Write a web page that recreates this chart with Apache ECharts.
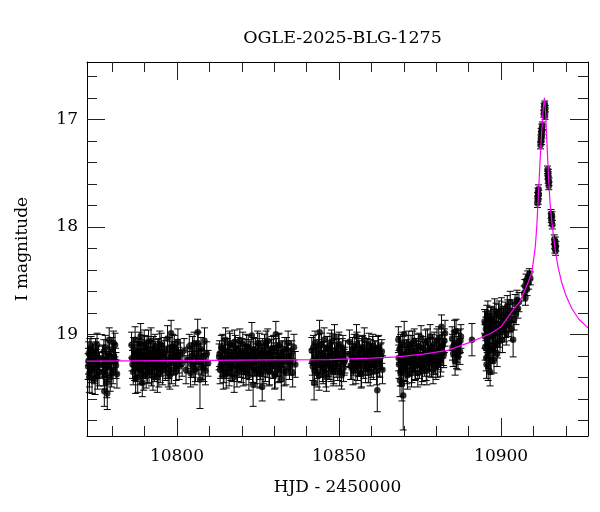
<!DOCTYPE html>
<html><head><meta charset="utf-8">
<script src="https://cdn.jsdelivr.net/npm/echarts/dist/echarts.min.js"></script>
<style>html,body{margin:0;padding:0;background:#fff}#c{width:600px;height:512px}</style>
</head><body><div id="c"></div>
<script>
const titleText = 'OGLE-2025-BLG-1275';
const xName = 'HJD - 2450000';
const yName = 'I magnitude';
const xRange = [10772.25, 10926.8];
const yRange = [16.467, 19.946];
const xMajor = [10800, 10850, 10900];
const xMinor = [10780, 10790, 10810, 10820, 10830, 10840, 10860, 10870, 10880, 10890, 10910, 10920];
const yMajor = [17, 18, 19];
const yMinor = [16.6, 16.8, 17.2, 17.4, 17.6, 17.8, 18.2, 18.4, 18.6, 18.8, 19.2, 19.4, 19.6, 19.8];

// OGLE photometry, first pass: HJD-2450000, I mag, error
const hjd = [
  10772.6,10772.8,10773.0,10773.3,10773.5,10773.8,10774.1,10774.3,10774.6,10774.9,10775.2,10775.5,10775.8,10776.1,
  10777.0,10777.3,10777.6,10777.9,10778.2,10778.5,10778.8,10779.1,10779.4,10779.7,10780.0,10780.3,10780.6,10780.9,10781.2,10781.5,
  10786.0,10786.3,10786.5,10786.8,10787.1,10787.4,10787.6,10787.9,10788.2,10788.5,
  10788.8,10789.0,10789.3,10789.6,10789.9,10790.2,10790.5,10790.8,10791.1,10791.4,
  10791.7,10792.0,10792.3,10792.6,10792.9,10793.2,10793.5,10793.8,10794.1,10794.4,
  10794.7,10795.0,10795.3,10795.6,10796.0,10796.4,10796.8,10797.1,10797.5,10797.8,
  10798.2,10798.5,10798.9,10799.2,10799.6,10799.9,10800.3,10800.7,10801.1,10801.6,
  10802.2,10802.8,10803.3,10803.8,10804.2,10804.6,10805.0,10805.3,10805.7,10806.0,
  10806.4,10806.7,10807.1,10807.4,10807.8,10808.1,10808.5,10808.8,10809.2,10809.6,
  10813.0,10813.3,10813.7,10814.0,10814.3,10814.7,10815.0,10815.4,10815.7,10816.1,
  10816.4,10816.8,10817.1,10817.5,10817.8,10818.2,10818.5,10818.9,10819.2,10819.6,
  10819.9,10820.3,10820.6,10821.0,10821.3,10821.7,10822.0,10822.4,10822.7,10823.1,
  10823.5,10823.8,10824.2,10824.5,10824.9,10825.2,10825.6,10825.9,10826.3,10826.6,
  10827.0,10827.3,10827.7,10828.0,10828.4,10828.7,10829.1,10829.4,10829.8,10830.1,
  10830.5,10830.8,10831.2,10831.5,10831.9,10832.2,10832.6,10832.9,10833.3,10833.6,
  10834.0,10834.3,10834.7,10835.0,10835.4,10835.7,10836.1,10836.5,
  10841.6,10841.9,10842.3,10842.6,10843.0,10843.3,10843.7,10844.0,10844.4,10844.7,
  10845.1,10845.4,10845.8,10846.1,10846.5,10846.8,10847.2,10847.5,10847.9,10848.2,
  10848.6,10848.9,10849.3,10849.6,10850.0,10850.4,10850.8,10851.2,10851.6,10852.0,
  10853.2,10853.6,10854.0,10854.3,10854.7,10855.0,10855.4,10855.7,10856.1,10856.4,
  10856.8,10857.1,10857.5,10857.8,10858.2,10858.5,10858.9,10859.2,10859.6,10859.9,
  10860.3,10860.6,10861.0,10861.4,10861.8,10862.2,10862.6,10863.0,10863.4,
  10868.3,10868.5,10868.8,10869.0,10869.3,10869.5,10869.8,10870.1,10870.4,10870.8,
  10871.1,10871.5,10871.8,10872.2,10872.5,10872.9,10873.2,10873.6,10873.9,10874.3,
  10874.6,10875.0,10875.3,10875.7,10876.0,10876.4,10876.7,10877.1,10877.4,10877.8,
  10878.1,10878.5,10878.8,10879.2,10879.5,10879.9,10880.2,10880.6,10880.9,10881.3,
  10881.6,10882.0,10882.3,10882.7,10884.9,10885.2,10885.5,10885.8,10886.1,10886.4,
  10886.7,10887.0,10887.3,10887.6,
  10891.0,
  10894.9,10895.1,10895.3,10895.5,10895.7,10895.9,10896.1,10896.3,10896.6,10896.8,
  10897.0,10897.3,10897.5,10897.8,10898.0,10898.3,10898.6,10898.9,10899.2,10899.5,
  10899.8,10900.1,10900.4,10900.7,10901.0,10901.3,10901.6,10901.9,10902.2,10902.5,
  10902.8,10903.1,10903.4,10903.7,10904.0,10904.3,10904.6,10904.9,10905.2,10905.5,
  10907.1,10907.3,10907.5,10907.7,10908.0,10908.2,10908.5,10908.7,10909.0,
  10911.20,10911.28,10911.36,10911.44,10911.52,10911.60,
  10912.15,10912.25,10912.35,10912.45,10912.55,10912.65,10912.75,
  10913.15,10913.25,10913.35,10913.45,10913.55,10913.65,
  10914.30,10914.40,10914.50,10914.60,10914.70,10914.80,
  10915.40,10915.50,10915.60,10915.70,10915.80,
  10916.40,10916.50,10916.60,10916.70,10916.80,10916.90
];
const imag = [
  19.30,19.18,19.36,19.24,19.12,19.41,19.27,19.20,19.33,19.15,19.26,19.38,19.22,19.29,
  19.22,19.35,19.53,19.12,19.30,19.55,19.18,19.05,19.40,19.26,19.14,19.33,19.21,19.10,19.29,19.37,
  19.10,19.28,19.35,19.18,19.05,19.31,19.22,19.40,19.15,19.26,
  19.02,19.33,19.45,19.19,19.08,19.29,19.37,19.13,19.24,19.32,
  19.17,19.06,19.28,19.39,19.21,19.11,19.30,19.25,19.16,19.36,
  19.09,19.27,19.20,19.34,19.14,19.31,19.23,19.04,19.29,19.38,
  18.99,19.18,19.26,19.12,19.35,19.22,19.07,19.30,19.19,19.27,
  19.15,19.33,19.24,19.11,19.36,19.20,19.28,19.09,19.32,19.17,
  18.98,19.25,19.42,19.14,19.30,19.21,19.06,19.34,19.18,19.27,
  19.21,19.33,19.12,19.27,19.38,19.16,19.05,19.29,19.22,19.35,
  19.10,19.26,19.31,19.18,19.07,19.24,19.36,19.14,19.28,19.20,
  19.32,19.09,19.25,19.17,19.34,19.23,19.12,19.30,19.19,19.01,
  19.47,19.26,19.15,19.33,19.08,19.22,19.37,19.18,19.49,19.27,
  19.11,19.31,19.20,19.06,19.35,19.24,19.16,19.29,19.13,19.38,
  19.00,19.23,19.32,19.10,19.27,19.42,19.18,19.26,19.14,19.34,
  19.21,19.08,19.30,19.25,19.17,19.36,19.12,19.28,
  19.15,19.30,19.45,19.08,19.24,19.36,19.12,18.98,19.28,19.19,
  19.33,19.05,19.22,19.40,19.14,19.27,19.10,19.31,19.20,19.35,
  19.02,19.25,19.17,19.30,19.09,19.23,19.38,19.13,19.26,19.18,
  19.07,19.29,19.21,19.34,19.11,19.24,19.02,19.30,19.16,19.27,
  19.37,19.13,19.22,19.05,19.32,19.19,19.26,19.10,19.35,19.21,
  19.14,19.29,19.18,19.24,19.52,19.12,19.28,19.20,19.33,
  19.05,19.28,19.43,19.12,19.35,19.20,19.57,19.00,19.31,19.17,
  19.38,19.09,19.26,19.14,19.33,19.22,19.06,19.29,19.18,19.36,
  19.11,19.25,19.03,19.31,19.19,19.27,19.08,19.34,19.15,19.22,
  19.02,19.28,19.12,19.24,19.17,19.30,19.06,19.21,19.13,19.26,
  18.93,19.10,19.19,18.99,19.04,19.18,19.09,19.25,18.97,19.14,
  19.21,19.07,19.16,19.02,
  19.05,
  18.88,19.12,18.95,19.28,19.05,18.80,19.20,18.92,19.35,19.02,
  18.85,19.15,18.97,19.24,18.78,19.08,18.90,19.10,18.83,19.00,
  18.93,18.76,19.05,18.87,18.96,18.80,18.99,18.74,18.91,18.82,
  18.70,18.95,18.78,19.05,18.86,18.72,18.81,18.68,18.76,18.70,
  18.62,18.55,18.66,18.50,18.58,18.47,18.52,18.44,18.48,
  17.78,17.72,17.68,17.75,17.65,17.70,
  17.24,17.18,17.12,17.20,17.08,17.14,17.06,
  16.95,16.88,16.92,16.86,16.97,16.90,
  17.47,17.52,17.56,17.50,17.62,17.58,
  17.88,17.92,17.95,17.90,17.98,
  18.12,18.16,18.20,18.14,18.22,18.18
];
const ierr = [
  0.12,0.11,0.13,0.12,0.10,0.14,0.12,0.11,0.13,0.11,0.12,0.13,0.11,0.12,
  0.12,0.13,0.14,0.11,0.12,0.15,0.12,0.11,0.13,0.12,0.11,0.13,0.12,0.11,0.12,0.13,
  0.12,0.13,0.12,0.11,0.12,0.13,0.12,0.14,0.11,0.12,
  0.12,0.13,0.13,0.11,0.12,0.12,0.13,0.11,0.12,0.13,
  0.11,0.12,0.12,0.13,0.12,0.11,0.12,0.12,0.11,0.13,
  0.12,0.12,0.11,0.13,0.11,0.12,0.12,0.12,0.12,0.13,
  0.12,0.11,0.12,0.11,0.13,0.12,0.12,0.12,0.11,0.12,
  0.11,0.13,0.12,0.11,0.13,0.12,0.12,0.11,0.12,0.11,
  0.12,0.12,0.27,0.11,0.12,0.12,0.12,0.13,0.11,0.12,
  0.12,0.13,0.11,0.12,0.13,0.12,0.11,0.12,0.12,0.13,
  0.11,0.12,0.13,0.12,0.11,0.12,0.13,0.11,0.12,0.12,
  0.13,0.11,0.12,0.12,0.13,0.12,0.11,0.12,0.12,0.12,
  0.20,0.12,0.11,0.13,0.11,0.12,0.13,0.12,0.13,0.12,
  0.11,0.13,0.12,0.11,0.13,0.12,0.11,0.12,0.12,0.13,
  0.12,0.12,0.13,0.11,0.12,0.19,0.12,0.12,0.11,0.13,
  0.12,0.11,0.12,0.12,0.11,0.13,0.12,0.12,
  0.12,0.13,0.16,0.11,0.12,0.13,0.12,0.11,0.12,0.12,
  0.13,0.11,0.12,0.13,0.12,0.12,0.11,0.13,0.12,0.13,
  0.11,0.12,0.12,0.13,0.11,0.12,0.13,0.12,0.12,0.12,
  0.11,0.13,0.12,0.13,0.11,0.12,0.11,0.13,0.12,0.12,
  0.13,0.11,0.12,0.11,0.13,0.12,0.12,0.11,0.13,0.12,
  0.12,0.13,0.12,0.12,0.20,0.11,0.12,0.12,0.13,
  0.12,0.13,0.15,0.12,0.13,0.12,0.32,0.12,0.13,0.12,
  0.13,0.12,0.12,0.13,0.12,0.12,0.11,0.13,0.12,0.13,
  0.12,0.12,0.11,0.13,0.12,0.12,0.12,0.13,0.11,0.12,
  0.11,0.12,0.12,0.13,0.12,0.12,0.11,0.12,0.12,0.13,
  0.11,0.12,0.12,0.12,0.11,0.12,0.12,0.13,0.11,0.12,
  0.12,0.11,0.12,0.11,
  0.15,
  0.11,0.12,0.11,0.13,0.12,0.11,0.12,0.11,0.13,0.12,
  0.11,0.12,0.11,0.12,0.11,0.12,0.11,0.12,0.11,0.12,
  0.11,0.10,0.12,0.11,0.11,0.10,0.11,0.10,0.11,0.10,
  0.10,0.11,0.10,0.16,0.10,0.09,0.10,0.09,0.09,0.09,
  0.07,0.06,0.07,0.06,0.06,0.06,0.06,0.05,0.06,
  0.04,0.04,0.04,0.04,0.04,0.04,
  0.035,0.035,0.035,0.035,0.035,0.035,0.035,
  0.03,0.03,0.03,0.03,0.03,0.03,
  0.035,0.035,0.035,0.035,0.035,0.035,
  0.04,0.04,0.04,0.04,0.04,
  0.045,0.045,0.045,0.045,0.045,0.045
];

// OGLE photometry, second pass (interleaved frames)
const hjd2 = [
  10772.7,10772.95,10773.15,10773.65,10773.95,10774.45,10774.75,10775.05,10775.35,10775.95,
  10777.15,10777.45,10777.75,10778.05,10778.35,10778.65,10779.25,10779.85,10780.45,10781.05,
  10786.15,10786.65,10786.95,10787.25,10787.75,10788.05,10788.35,10788.65,10788.9,10789.15,
  10789.45,10789.75,10790.05,10790.35,10790.65,10790.95,10791.25,10791.55,10791.85,10792.15,
  10792.45,10792.75,10793.05,10793.35,10793.65,10793.95,10794.25,10794.55,10794.85,10795.15,
  10795.45,10796.2,10796.6,10797.3,10797.65,10798.0,10798.35,10798.7,10799.05,10799.4,
  10799.75,10800.1,10800.5,10804.4,10804.8,10805.5,10806.2,10806.55,10807.6,10808.3,
  10813.15,10813.5,10813.85,10814.15,10814.5,10814.85,10815.2,10815.55,10815.9,10816.25,
  10816.6,10816.95,10817.3,10817.65,10818.0,10818.35,10818.7,10819.05,10819.4,10819.75,
  10820.1,10820.45,10820.8,10821.15,10821.5,10821.85,10822.2,10822.55,10822.9,10823.3,
  10823.65,10824.0,10824.35,10824.7,10825.05,10825.4,10825.75,10826.1,10826.45,10826.8,
  10827.15,10827.5,10827.85,10828.2,10828.55,10828.9,10829.25,10829.6,10829.95,10830.3,
  10830.65,10831.0,10831.35,10831.7,10832.05,10832.4,10833.1,10833.8,10834.5,10835.2,
  10841.75,10842.1,10842.45,10842.8,10843.15,10843.5,10843.85,10844.2,10844.55,10844.9,
  10845.25,10845.6,10845.95,10846.3,10846.65,10847.0,10847.35,10847.7,10848.05,10848.4,
  10848.75,10849.1,10849.45,10849.8,10850.2,10850.6,10851.0,10851.4,10851.8,10853.4,
  10853.8,10854.15,10854.5,10854.85,10855.2,10855.55,10855.9,10856.25,10856.6,10856.95,
  10857.3,10857.65,10858.0,10858.35,10858.7,10859.05,10859.4,10859.75,10860.1,10860.45,
  10860.8,10861.2,10861.6,10862.0,10862.4,10862.8,10863.2,
  10868.4,10868.65,10868.9,10869.15,10869.4,10869.65,10869.95,10870.25,10870.6,10870.95,
  10871.3,10871.65,10872.0,10872.35,10872.7,10873.05,10873.4,10873.75,10874.1,10874.45,
  10874.8,10875.15,10875.5,10875.85,10876.2,10876.55,10876.9,10877.25,10877.6,10877.95,
  10878.3,10878.65,10879.0,10879.35,10879.7,10880.05,10880.4,10880.75,10881.1,10881.45,
  10881.8,10882.15,10882.5,10885.0,10885.65,10886.25,10886.85,10887.45,
  10895.0,10895.2,10895.4,10895.6,10895.8,10896.0,10896.2,10896.45,10896.7,10896.9,
  10897.15,10897.4,10897.65,10897.9,10898.15,10898.45,10898.75,10899.05,10899.35,10899.65,
  10900.25,10900.85,10901.45,10902.05,10902.65
];
const imag2 = [
  19.25,19.40,19.15,19.32,19.20,19.28,19.42,19.19,19.10,19.35,
  19.28,19.16,19.38,19.24,19.45,19.31,19.20,19.36,19.08,19.25,
  19.22,19.14,19.30,19.41,19.19,19.27,19.09,19.34,19.21,19.16,
  19.29,19.38,19.12,19.25,19.20,19.33,19.07,19.28,19.18,19.35,
  19.24,19.13,19.31,19.19,19.27,19.40,19.15,19.23,19.32,19.10,
  19.26,19.18,19.29,19.36,19.14,19.22,19.33,19.11,19.25,19.19,
  19.30,19.16,19.24,19.28,19.13,19.34,19.21,19.09,19.26,19.31,
  19.18,19.29,19.24,19.13,19.33,19.21,19.37,19.15,19.26,19.09,
  19.30,19.20,19.27,19.40,19.12,19.23,19.31,19.19,19.06,19.28,
  19.16,19.35,19.22,19.29,19.11,19.26,19.38,19.17,19.24,19.32,
  19.14,19.27,19.21,19.36,19.19,19.10,19.30,19.25,19.15,19.33,
  19.22,19.08,19.28,19.18,19.34,19.24,19.13,19.29,19.20,19.37,
  19.16,19.27,19.11,19.31,19.23,19.19,19.35,19.14,19.26,19.21,
  19.26,19.12,19.34,19.21,19.29,19.17,19.38,19.24,19.10,19.31,
  19.19,19.27,19.36,19.13,19.23,19.30,19.18,19.07,19.25,19.33,
  19.15,19.28,19.20,19.11,19.35,19.22,19.16,19.31,19.24,19.19,
  19.30,19.14,19.26,19.21,19.33,19.09,19.27,19.18,19.24,19.36,
  19.12,19.29,19.20,19.26,19.15,19.32,19.22,19.17,19.28,19.11,
  19.25,19.19,19.34,19.13,19.27,19.21,19.16,
  19.22,19.14,19.35,19.26,19.46,19.09,19.30,19.18,19.24,19.33,
  19.12,19.27,19.20,19.36,19.08,19.23,19.30,19.15,19.26,19.11,
  19.29,19.19,19.34,19.13,19.24,19.17,19.31,19.06,19.21,19.27,
  19.14,19.22,19.33,19.09,19.25,19.16,19.28,19.04,19.19,19.23,
  19.11,19.17,19.06,19.12,18.98,19.20,19.10,19.06,
  19.02,18.90,19.22,18.84,19.10,19.30,18.98,19.14,18.86,19.25,
  19.00,18.92,19.12,18.88,19.04,18.82,19.18,18.95,18.79,19.06,
  18.90,18.84,18.92,18.78,18.88
];
const ierr2 = [
  0.12,0.14,0.11,0.13,0.12,0.12,0.14,0.12,0.11,0.13,
  0.12,0.11,0.13,0.12,0.14,0.13,0.12,0.13,0.11,0.12,
  0.12,0.11,0.13,0.14,0.12,0.12,0.11,0.13,0.12,0.11,
  0.12,0.14,0.11,0.12,0.12,0.13,0.11,0.12,0.12,0.13,
  0.12,0.11,0.13,0.12,0.12,0.14,0.11,0.12,0.13,0.11,
  0.12,0.12,0.12,0.13,0.11,0.12,0.13,0.11,0.12,0.12,
  0.13,0.11,0.12,0.12,0.11,0.13,0.12,0.11,0.12,0.13,
  0.12,0.12,0.11,0.13,0.12,0.12,0.13,0.11,0.12,0.12,
  0.13,0.11,0.12,0.14,0.11,0.12,0.13,0.12,0.11,0.12,
  0.12,0.13,0.12,0.12,0.11,0.12,0.14,0.12,0.12,0.13,
  0.11,0.12,0.12,0.13,0.12,0.11,0.12,0.12,0.11,0.13,
  0.12,0.11,0.12,0.12,0.13,0.12,0.11,0.12,0.12,0.13,
  0.12,0.12,0.11,0.13,0.12,0.12,0.13,0.11,0.12,0.12,
  0.12,0.11,0.13,0.12,0.12,0.12,0.14,0.12,0.11,0.13,
  0.12,0.12,0.13,0.11,0.12,0.12,0.12,0.11,0.12,0.13,
  0.11,0.12,0.12,0.11,0.13,0.12,0.12,0.13,0.12,0.12,
  0.12,0.11,0.12,0.12,0.13,0.11,0.12,0.12,0.12,0.13,
  0.11,0.12,0.12,0.12,0.11,0.13,0.12,0.12,0.12,0.11,
  0.12,0.12,0.13,0.11,0.12,0.12,0.11,
  0.12,0.12,0.13,0.12,0.16,0.11,0.13,0.12,0.12,0.13,
  0.11,0.12,0.12,0.13,0.11,0.12,0.13,0.11,0.12,0.11,
  0.12,0.12,0.13,0.11,0.12,0.12,0.12,0.11,0.12,0.12,
  0.11,0.12,0.13,0.11,0.12,0.12,0.12,0.11,0.12,0.12,
  0.11,0.12,0.11,0.12,0.11,0.12,0.11,0.11,
  0.11,0.11,0.12,0.11,0.12,0.13,0.11,0.12,0.11,0.12,
  0.11,0.11,0.12,0.11,0.11,0.11,0.12,0.11,0.10,0.11,
  0.10,0.10,0.11,0.10,0.10
];

// microlensing model curve
const modelHjd = [10772.25,10800,10830,10847,10860,10868,10876,10883.5,10890.75,10894,10896.9,10900,10902.1,10904,10905.7,10906.9,10908.3,10909.5,10910.5,10911.0,10911.5,10912.0,10912.5,10913.0,10913.35,10913.7,10914.1,10914.6,10915.1,10915.6,10916.2,10916.8,10917.6,10918.7,10920.0,10921.8,10924.0,10926.8];
const modelMag = [19.250,19.245,19.238,19.235,19.222,19.210,19.185,19.150,19.070,19.030,18.990,18.930,18.840,18.760,18.700,18.620,18.520,18.420,18.200,18.000,17.700,17.400,17.120,16.900,16.800,16.920,17.200,17.520,17.780,17.940,18.100,18.240,18.380,18.520,18.640,18.760,18.860,18.940];

const FONT = 'DejaVu Serif';
const chart = echarts.init(document.getElementById('c'), null, {renderer: 'canvas'});

function xAx(pos, ticks, len, withLabel, withLine) {
  const a = {
    type: 'value', gridIndex: 0, position: pos, min: xRange[0], max: xRange[1],
    axisLine: {show: withLine, onZero: false, lineStyle: {color: '#000', width: 1}},
    axisTick: {show: true, inside: true, length: len, customValues: ticks, lineStyle: {color: '#222', width: 1}},
    axisLabel: {show: withLabel},
    splitLine: {show: false}, minorTick: {show: false}
  };
  if (withLabel) {
    a.axisLabel = {show: true, customValues: ticks, margin: 12, fontFamily: FONT, fontSize: 17, color: '#000',
      formatter: v => String(v)};
    a.name = xName; a.nameLocation = 'middle'; a.nameGap = 43;
    a.nameTextStyle = {fontFamily: FONT, fontSize: 17, color: '#000'};
  }
  return a;
}
function yAx(pos, ticks, len, withLabel, withLine) {
  const a = {
    type: 'value', gridIndex: 0, position: pos, min: yRange[0], max: yRange[1], inverse: true,
    axisLine: {show: withLine, onZero: false, lineStyle: {color: '#000', width: 1}},
    axisTick: {show: true, inside: true, length: len, customValues: ticks, lineStyle: {color: '#222', width: 1}},
    axisLabel: {show: withLabel},
    splitLine: {show: false}, minorTick: {show: false}
  };
  if (withLabel) {
    a.axisLabel = {show: true, customValues: ticks, margin: 9, fontFamily: FONT, fontSize: 17, color: '#000',
      formatter: v => String(v)};
    a.name = yName; a.nameLocation = 'middle'; a.nameGap = 56; a.nameRotate = 90;
    a.nameTextStyle = {fontFamily: FONT, fontSize: 17, color: '#000'};
  }
  return a;
}

const allX = hjd.concat(hjd2);
const allM = imag.concat(imag2);
const allE = ierr.concat(ierr2);
const errData = allX.map((d, i) => [d, allM[i] - allE[i], allM[i] + allE[i]]);
const ptData = allX.map((d, i) => [d, allM[i]]);
const modelData = modelHjd.map((d, i) => [d, modelMag[i]]);

chart.setOption({
  animation: false,
  backgroundColor: '#fff',
  title: {text: titleText, left: 337.5, top: 24, textAlign: 'center',
    textStyle: {fontFamily: FONT, fontSize: 17.5, fontWeight: 'normal', color: '#000'}},
  grid: {left: 87, right: 12, top: 62, bottom: 76, containLabel: false},
  xAxis: [
    xAx('bottom', xMajor, 18, true, true),
    xAx('bottom', xMinor, 10, false, false),
    xAx('top', xMajor, 18, false, true),
    xAx('top', xMinor, 10, false, false)
  ],
  yAxis: [
    yAx('left', yMajor, 18, true, true),
    yAx('left', yMinor, 10, false, false),
    yAx('right', yMajor, 18, false, true),
    yAx('right', yMinor, 10, false, false)
  ],
  series: [
    {
      type: 'custom', xAxisIndex: 0, yAxisIndex: 0, z: 2,
      data: errData, encode: {x: 0, y: [1, 2]},
      renderItem: function (params, api) {
        const x = api.value(0);
        const p1 = api.coord([x, api.value(1)]);
        const p2 = api.coord([x, api.value(2)]);
        const w = 3.5;
        const st = {stroke: '#000', lineWidth: 1};
        return {type: 'group', children: [
          {type: 'line', shape: {x1: p1[0], y1: p1[1], x2: p2[0], y2: p2[1]}, style: st},
          {type: 'line', shape: {x1: p1[0] - w, y1: p1[1], x2: p1[0] + w, y2: p1[1]}, style: st},
          {type: 'line', shape: {x1: p2[0] - w, y1: p2[1], x2: p2[0] + w, y2: p2[1]}, style: st}
        ]};
      }
    },
    {
      type: 'scatter', xAxisIndex: 0, yAxisIndex: 0, z: 3,
      data: ptData, symbol: 'circle', symbolSize: 6.5,
      itemStyle: {color: '#000'}
    },
    {
      type: 'line', xAxisIndex: 0, yAxisIndex: 0, z: 4,
      data: modelData, showSymbol: false, smooth: false,
      lineStyle: {color: '#ff00ff', width: 1.2}
    }
  ]
});
</script></body></html>
